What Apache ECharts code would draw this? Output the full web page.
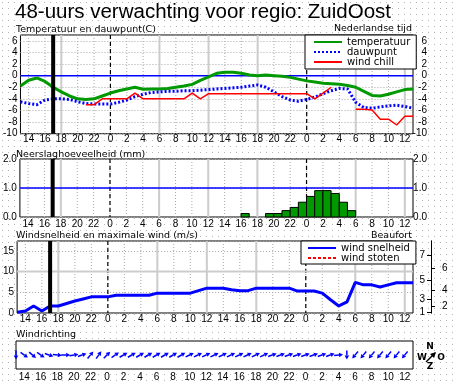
<!DOCTYPE html>
<html><head><meta charset="utf-8">
<script src="https://cdn.jsdelivr.net/npm/echarts@6/dist/echarts.min.js"></script>
<style>
html,body{margin:0;padding:0;width:453px;height:386px;overflow:hidden;background-color:#fff;}
body{background-image:url("data:image/svg+xml;utf8,<svg xmlns='http://www.w3.org/2000/svg' width='6' height='6'><rect x='0' y='0' width='1' height='1' fill='%23b4b4b4'/></svg>");background-size:6px 6px;background-position:2px 2px;}
#c{width:453px;height:386px;}
</style></head><body><div id="c"></div>
<script>
// ---- data (hours counted from 13:00 on day 1) ----
const startHour = 13;
const timeLabels = ['14','16','18','20','22','0','2','4','6','8','10','12','14','16','18','20','22','0','2','4','6','8','10','12'];
const temperature = [-1.8,-0.8,-0.4,-1.0,-2.0,-2.8,-3.5,-4.0,-4.1,-4.0,-3.5,-3.0,-2.6,-2.3,-2.0,-2.35,-2.3,-2.3,-2.2,-2.0,-1.8,-1.5,-0.8,-0.2,0.4,0.6,0.6,0.4,0.1,0.0,0.1,0.0,-0.1,-0.3,-0.6,-0.9,-1.1,-1.3,-1.4,-1.5,-1.7,-2.0,-2.7,-3.4,-3.5,-3.2,-2.8,-2.4,-2.3];
const dewpoint = [-4.5,-4.8,-5.0,-4.2,-4.0,-4.0,-4.1,-4.5,-4.8,-4.9,-4.9,-4.9,-4.6,-4.2,-3.6,-3.2,-2.9,-2.8,-2.7,-2.7,-2.6,-2.6,-2.5,-2.4,-2.3,-2.2,-2.1,-2.0,-1.8,-1.6,-2.0,-2.8,-3.6,-4.2,-4.4,-4.1,-3.7,-3.1,-2.6,-2.2,-2.3,-4.6,-5.5,-5.6,-5.4,-5.2,-5.1,-5.3,-5.6];
const windchill = [null,null,null,null,null,null,null,null,-5.0,-5.0,-4.0,-4.0,-4.0,-4.0,-3.0,-4.0,-4.0,-4.0,-4.0,-4.0,-4.0,-3.0,-4.0,-3.1,-3.1,-3.1,-3.1,-3.1,-3.1,-3.1,-3.1,-3.1,-3.1,-3.1,-3.1,-3.1,-4.0,-3.0,-2.0,null,null,-5.8,-5.8,-5.9,-7.5,-7.5,-8.5,-7.0,-7.0];
const precipitation = [0,0,0,0,0,0,0,0,0,0,0,0,0,0,0,0,0,0,0,0,0,0,0,0,0,0,0,0.12,0,0,0.12,0.12,0.22,0.33,0.51,0.71,0.91,0.91,0.81,0.51,0.22,0,0,0,0,0,0,0];
const windSpeed = [0.2,0.5,1.7,0.5,1.7,1.7,2.3,2.9,3.4,3.9,3.9,3.9,4.3,4.3,4.3,4.3,4.3,4.8,4.8,4.8,4.8,4.8,5.4,6.0,6.0,6.0,5.6,5.4,5.4,6.0,6.0,6.0,6.0,6.0,5.3,5.3,5.3,4.8,3.2,1.7,2.7,7.4,6.8,6.8,6.3,6.8,7.3,7.3,7.3];
const windGusts = [];
const windDirection = [0,305,310,305,290,275,270,260,250,220,215,225,235,240,240,240,240,240,240,240,240,245,245,245,245,245,245,245,245,245,245,250,250,250,250,250,250,250,250,265,0,40,40,40,40,40,40,40];
const beaufortBounds = [0.3,1.6,3.4,5.5,8.0,10.8,13.9];
const beaufortLabels = ['1','2','3','4','5','6','7'];
const nowHour = 4;

// ---- helpers ----
const FONT = 'Liberation Sans';
const TXT = 'DejaVu Sans';
const pairs = arr => arr.map((v, i) => [i, v]);
const labelHours = [];
for (let h = 0; h <= 48; h++) if ((startHour + h) % 2 === 0) labelHours.push(h);
const midnightHours = [], grayHours = [];
for (let h = 0; h <= 48; h++) {
  const c = (startHour + h) % 24;
  if (c === 0) midnightHours.push(h);
  if (c === 6 || c === 12 || c === 18) grayHours.push(h);
}
const timeFmt = v => { const k = labelHours.indexOf(v); return k >= 0 ? timeLabels[k] : ''; };
const oddB = beaufortBounds.filter((_, i) => i % 2 === 0);
const evenB = beaufortBounds.filter((_, i) => i % 2 === 1);
const bLabel = v => { const k = beaufortBounds.indexOf(v); return k >= 0 ? beaufortLabels[k] : ''; };

function guideList(horiz) {
  const list = [];
  labelHours.forEach(h => list.push({dir:'v', v:h, style:{stroke:'#a8a8a8', lineWidth:1, lineDash:[1,2]}}));
  grayHours.forEach(h => list.push({dir:'v', v:h, style:{stroke:'#cccccc', lineWidth:2}}));
  midnightHours.forEach(h => list.push({dir:'v', v:h, style:{stroke:'#000', lineWidth:1.2, lineDash:[4,3]}}));
  (horiz || []).forEach(o => list.push(o));
  return list;
}
const yIdx = [0, 2, 4, 7];
function guideSeries(idx, list, z) {
  return {
    type:'custom', xAxisIndex:idx, yAxisIndex:yIdx[idx], z:z, silent:true, clip:false,
    data: list.map(g => [g.dir === 'v' ? g.v : 0, g.dir === 'h' ? g.v : 0]),
    renderItem: function (params, api) {
      const g = list[params.dataIndex];
      const cs = params.coordSys;
      let shape;
      if (g.dir === 'v') { const x = api.coord([g.v, 0])[0]; shape = {x1:x, y1:cs.y, x2:x, y2:cs.y + cs.height}; }
      else { const y = api.coord([0, g.v])[1]; shape = {x1:cs.x, y1:y, x2:cs.x + cs.width, y2:y}; }
      return {type:'line', shape:shape, style:Object.assign({fill:null}, g.style)};
    }
  };
}

const gridBase = {left:16, width:397, show:true, backgroundColor:'#fff', borderColor:'#000', borderWidth:1};
function xAx(i, margin) {
  return {gridIndex:i, type:'value', min:0, max:48,
    axisLine:{show:false}, axisTick:{show:false}, splitLine:{show:false},
    axisLabel:{customValues:labelHours, formatter:timeFmt, margin:margin, fontSize:10, fontFamily:FONT, color:'#000'}};
}
function yAx(i, o) {
  return Object.assign({gridIndex:i, type:'value', axisLine:{show:false}, axisTick:{show:false}}, o);
}
const tempMin = -10, tempMax = 7, windMax = 17.4;
const dotSplit = {show:true, lineStyle:{color:'#a8a8a8', type:[1,2], width:1}};
const lblL = m => ({margin:m, fontSize:10, fontFamily:FONT, color:'#000', showMaxLabel:false});
const lblR = {margin:14, align:'right', fontSize:10, fontFamily:FONT, color:'#000', showMaxLabel:false};
const legendBase = {orient:'vertical', selectedMode:false, itemWidth:28, itemHeight:9, itemGap:0,
  itemStyle:{opacity:0}, borderColor:'#000', borderWidth:1, borderRadius:0, backgroundColor:'#fff'};

function nowLine(params, api) {
  const cs = params.coordSys;
  const x = api.coord([api.value(0), 0])[0];
  return {type:'line', shape:{x1:x, y1:cs.y, x2:x, y2:cs.y + cs.height}, style:{stroke:'#000', lineWidth:4}};
}
const txt = (x, y, s, extra) => ({type:'text', x:x, y:y, style:Object.assign({text:s, font:'9.5px "DejaVu Sans"', fill:'#000', textVerticalAlign:'middle', verticalAlign:'middle'}, extra || {})});
const rightAl = {textAlign:'right', align:'right'};
const compass = {font:'bold 9px "DejaVu Sans"', textAlign:'center', align:'center'};

const option = {
  animation:false,
  backgroundColor:'transparent',
  grid:[
    Object.assign({top:35, height:98.7}, gridBase),
    Object.assign({top:159, height:58}, gridBase),
    Object.assign({top:241, height:72}, gridBase),
    Object.assign({top:341, height:28}, gridBase)
  ],
  xAxis:[xAx(0,1), xAx(1,2), xAx(2,1), xAx(3,3)],
  yAxis:[
    yAx(0,{min:tempMin, max:tempMax, interval:2, splitLine:dotSplit, axisLabel:lblL(3)}),
    yAx(0,{min:tempMin, max:tempMax, interval:2, position:'right', splitLine:{show:false}, axisLabel:lblR}),
    yAx(1,{min:0, max:2, interval:1, splitLine:dotSplit, axisLabel:Object.assign(lblL(3),{showMaxLabel:true, formatter:v=>v.toFixed(1)})}),
    yAx(1,{min:0, max:2, interval:1, position:'right', splitLine:{show:false}, axisLabel:Object.assign({}, lblR, {showMaxLabel:true, formatter:v=>v.toFixed(1)})}),
    yAx(2,{min:0, max:windMax, interval:5, splitLine:dotSplit, axisLabel:lblL(3)}),
    yAx(2,{min:0, max:windMax, position:'right', offset:18, splitLine:{show:false},
      axisLine:{show:true, lineStyle:{color:'#000', width:1}},
      axisTick:{show:true, inside:true, length:4, customValues:oddB, lineStyle:{color:'#000'}},
      axisLabel:{inside:true, margin:6, customValues:oddB, formatter:bLabel, fontSize:10, fontFamily:FONT, color:'#000'}}),
    yAx(2,{min:0, max:windMax, position:'right', offset:18, splitLine:{show:false},
      axisLine:{show:true, lineStyle:{color:'#000', width:1}},
      axisTick:{show:true, inside:false, length:4, customValues:evenB, lineStyle:{color:'#000'}},
      axisLabel:{inside:false, margin:11, customValues:evenB, formatter:bLabel, fontSize:10, fontFamily:FONT, color:'#000'}}),
    yAx(3,{min:-1, max:1, show:false, splitLine:{show:false}})
  ],
  legend:[
    Object.assign({data:['temperatuur','dauwpunt','wind chill'], left:305, top:35, padding:[2,6,2,8],
      textStyle:{fontSize:10, fontFamily:TXT, color:'#000', lineHeight:9, width:61}}, legendBase),
    Object.assign({data:['wind snelheid','wind stoten'], left:301, top:241, padding:[2,6,1,6],
      textStyle:{fontSize:10, fontFamily:TXT, color:'#000', lineHeight:9, width:67}}, legendBase)
  ],
  graphic:[
    txt(15, 12.5, '48-uurs verwachting voor regio: ZuidOost', {font:'20.5px "Liberation Sans"'}),
    txt(16, 29.5, 'Temperatuur en dauwpunt(C)'),
    txt(412, 28.5, 'Nederlandse tijd', rightAl),
    txt(16, 154.5, 'Neerslaghoeveelheid (mm)'),
    txt(16, 235.5, 'Windsnelheid en maximale wind (m/s)'),
    txt(412, 235.5, 'Beaufort', rightAl),
    txt(16, 335, 'Windrichting'),
    txt(430, 347, 'N', compass),
    txt(422, 358, 'W', compass),
    txt(441, 358, 'O', compass),
    txt(430, 367, 'Z', compass),
    {type:'line', shape:{x1:426, y1:362, x2:435, y2:353}, style:{stroke:'#000', lineWidth:1.5}},
    {type:'polygon', shape:{points:[[436,352],[430,354],[434,358]]}, style:{fill:'#000'}}
  ],
  series:[
    guideSeries(0, guideList([{dir:'h', v:0, style:{stroke:'#0000ff', lineWidth:1.5}}]), 1),
    guideSeries(1, guideList([{dir:'h', v:1, style:{stroke:'#0000ff', lineWidth:1.5}}]), 1),
    guideSeries(2, guideList([{dir:'h', v:10, style:{stroke:'#cccccc', lineWidth:2}}]), 1),
    {name:'temperatuur', type:'line', xAxisIndex:0, yAxisIndex:0, z:3, data:pairs(temperature), symbol:'none',
      lineStyle:{color:'#009a00', width:3}, itemStyle:{color:'#009a00'}},
    {name:'dauwpunt', type:'line', xAxisIndex:0, yAxisIndex:0, z:3, data:pairs(dewpoint), symbol:'none',
      lineStyle:{color:'#0000ff', width:3, type:[2,2]}, itemStyle:{color:'#0000ff'}},
    {name:'wind chill', type:'line', xAxisIndex:0, yAxisIndex:0, z:3, data:pairs(windchill), symbol:'none', connectNulls:false,
      lineStyle:{color:'#ff0000', width:1.5}, itemStyle:{color:'#ff0000'}},
    {name:'neerslag', type:'custom', xAxisIndex:1, yAxisIndex:2, z:3, data:pairs(precipitation),
      renderItem:function (params, api) {
        const i = api.value(0), v = api.value(1);
        if (!v) return null;
        const p0 = api.coord([i, 0]), p1 = api.coord([i + 1, v]);
        return {type:'rect', shape:{x:p0[0], y:p1[1], width:p1[0] - p0[0], height:p0[1] - p1[1]},
          style:{fill:'#009a00', stroke:'#000', lineWidth:1}};
      }},
    {name:'wind snelheid', type:'line', xAxisIndex:2, yAxisIndex:4, z:3, data:pairs(windSpeed), symbol:'none',
      lineStyle:{color:'#0000ff', width:3}, itemStyle:{color:'#0000ff'}},
    {name:'wind stoten', type:'line', xAxisIndex:2, yAxisIndex:4, z:3, data:windGusts, symbol:'none',
      lineStyle:{color:'#ff0000', width:2, type:[3,2]}, itemStyle:{color:'#ff0000'}},
    {name:'windrichting', type:'custom', xAxisIndex:3, yAxisIndex:7, z:3, clip:false, data:pairs(windDirection),
      renderItem:function (params, api) {
        const i = api.value(0), from = api.value(1);
        const c = api.coord([i, 0]);
        const a = (from + 180) * Math.PI / 180;
        const dx = Math.sin(a), dy = -Math.cos(a);
        const L = 9;
        const tail = [c[0] - dx * L / 2, c[1] - dy * L / 2];
        const tip = [c[0] + dx * L / 2, c[1] + dy * L / 2];
        const px = -dy, py = dx;
        const b = [tip[0] - dx * 4, tip[1] - dy * 4];
        return {type:'group', children:[
          {type:'line', shape:{x1:tail[0], y1:tail[1], x2:b[0], y2:b[1]}, style:{stroke:'#0000ff', lineWidth:1.5}},
          {type:'polygon', shape:{points:[tip, [b[0] + px * 2.3, b[1] + py * 2.3], [b[0] - px * 2.3, b[1] - py * 2.3]]}, style:{fill:'#0000ff'}}
        ]};
      }},
    {type:'custom', xAxisIndex:0, yAxisIndex:0, z:5, silent:true, data:[[nowHour,0]], renderItem:nowLine},
    {type:'custom', xAxisIndex:1, yAxisIndex:2, z:5, silent:true, data:[[nowHour,0]], renderItem:nowLine},
    {type:'custom', xAxisIndex:2, yAxisIndex:4, z:5, silent:true, data:[[nowHour,0]], renderItem:nowLine}
  ]
};
const chart = echarts.init(document.getElementById('c'));
chart.setOption(option);
</script></body></html>
